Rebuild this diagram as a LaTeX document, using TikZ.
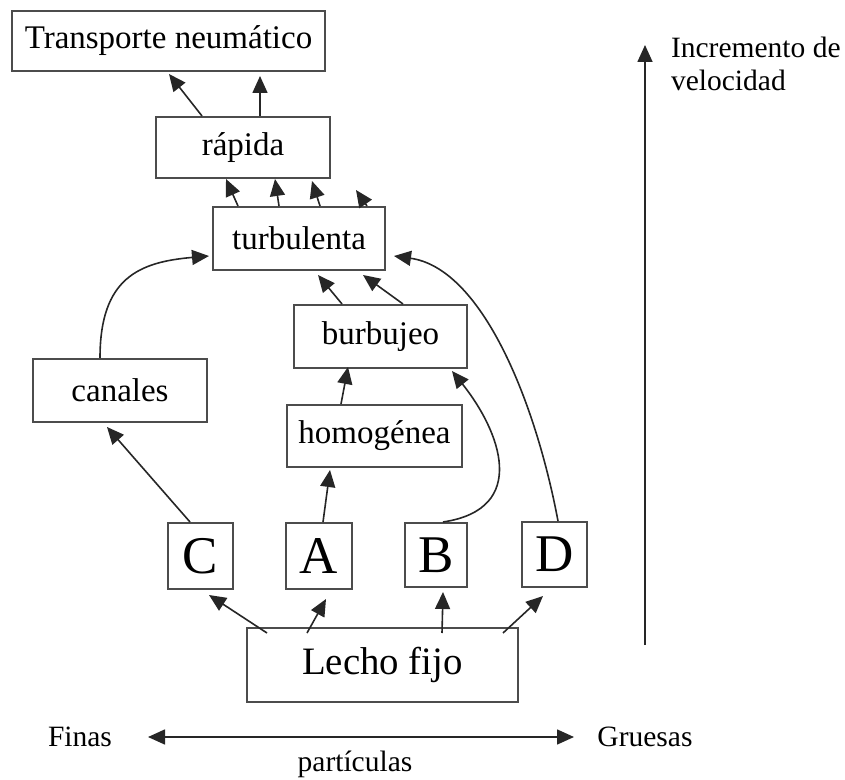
\documentclass[tikz,border=0pt]{standalone}
\usepackage{fontspec}
\setmainfont{Liberation Serif}
\usetikzlibrary{arrows.meta, calc}

\begin{document}
\begin{tikzpicture}[x=0.5pt, y=-0.5pt, >={Triangle[length=8.5pt, width=7.5pt]},
		box/.style={rectangle, draw=black!70, line width=1pt, fill=white, inner sep=0pt, font=\fontsize{16.5}{20}\selectfont},
		letra/.style={box, font=\fontsize{26.5}{30}\selectfont},
		flecha/.style={->, draw=black!85, line width=0.8pt},
		etiqueta/.style={font=\fontsize{14.75}{16.5}\selectfont}]
		
		\useasboundingbox (0,0) rectangle (845,780);
		
		% Regímenes
		\node[box, minimum width=156.5pt, minimum height=30pt] (trans) at (168.5,41) {Transporte neumático};
		\node[box, minimum width=87pt, minimum height=30.5pt] (rapida) at (243,147.5) {rápida};
		\node[box, minimum width=86pt, minimum height=31.5pt] (turb) at (299,238.5) {turbulenta};
		\node[box, minimum width=86.5pt, minimum height=31.5pt] (burb) at (380.5,336.5) {burbujeo};
		\node[box, minimum width=87.5pt, minimum height=31pt] (homog) at (374.5,436) {homogénea};
		\node[box, minimum width=87pt, minimum height=31.5pt] (canales) at (120,390.5) {canales};
		
		% Grupos de partículas
		\node[letra, minimum width=32.5pt, minimum height=33pt] (C) at (200.5,556) {C};
		\node[letra, minimum width=33pt, minimum height=33pt] (A) at (319,556) {A};
		\node[letra, minimum width=31pt, minimum height=32pt] (B) at (436,555) {B};
		\node[letra, minimum width=32.5pt, minimum height=32.5pt] (D) at (554.5,554.5) {D};
		
		% Lecho
		\node[box, minimum width=135.5pt, minimum height=37pt, font=\fontsize{19.4}{22}\selectfont] (lecho) at (382.5,665) {Lecho fijo};
		
		% Lecho -> grupos
		\draw[flecha] ($(lecho.north)+(-115.5,6)$) -- ($(C.south)+(8.5,5)$);
		\draw[flecha] ($(lecho.north)+(-75.5,6)$) -- ($(A.south)+(7,9)$);
		\draw[flecha] ($(lecho.north)+(59.5,6)$) -- ($(B.south)+(7,4)$);
		\draw[flecha] ($(lecho.north)+(120.5,6)$) -- ($(D.south)+(-11.5,8)$);
		
		% Grupos -> regímenes
		\draw[flecha] ($(C.north)+(-10.5,0)$) -- ($(canales.south)+(-13,4)$);
		\draw[flecha] ($(A.north)+(4,0)$) -- ($(homog.south)+(-44.5,2)$);
		\draw[flecha] ($(B.north)+(7,0)$) .. controls +(87,-13) and +(48,60) .. ($(burb.south)+(71.5,2)$);
		\draw[flecha] ($(D.north)+(3.5,0)$) .. controls +(-23,-122) and +(87,12) .. ($(turb.east)+(8,17.5)$);
		
		% Regímenes -> regímenes
		\draw[flecha] ($(homog.north)+(-33.5,0)$) -- ($(burb.south)+(-32.5,-2)$);
		\draw[flecha] ($(canales.north)+(-20,0)$) .. controls +(0,-80) and +(-70,6) .. ($(turb.west)+(-3,17.5)$);
		\draw[flecha] ($(burb.north)+(-38.5,0)$) -- ($(turb.south)+(19,4)$);
		\draw[flecha] ($(burb.north)+(22.5,0)$) -- ($(turb.south)+(64,4)$);
		
		% turbulenta -> rápida
		\coordinate (t4) at ($(turb.north)+(57,-16)$);
		\draw[flecha] ($(turb.north)+(-61,0)$) -- ($(rapida.south)+(-17,0)$);
		\draw[flecha] ($(turb.north)+(-20,0)$) -- ($(rapida.south)+(32,0)$);
		\draw[flecha] ($(turb.north)+(21,0)$) -- ($(rapida.south)+(69,2)$);
		\draw[flecha] ($(turb.north)+(68,0)$) -- (t4);
		
		% rápida -> transporte
		\draw[flecha] ($(rapida.north)+(-41,0)$) -- ($(trans.south)+(0.5,2)$);
		\draw[flecha] ($(rapida.north)+(17,0)$) -- ($(trans.south)+(91.5,4)$);
		
		% Velocidad
		\coordinate (v0) at (645,645);
		\coordinate (v1) at (645,45);
		\draw[flecha] (v0) -- (v1);
		\node[etiqueta, anchor=north west, align=left] (vel) at (664,30) {Incremento de\\velocidad};
		
		% Tamaño de partícula
		\node[etiqueta] (finas) at (80,737) {Finas};
		\node[etiqueta] (gruesas) at (645,737) {Gruesas};
		\coordinate (p0) at (148,737);
		\coordinate (p1) at (574,737);
		\draw[flecha, <->] (p0) -- (p1);
		\node[etiqueta] (part) at (355,764) {partículas};
		
	\end{tikzpicture}
\end{document}
